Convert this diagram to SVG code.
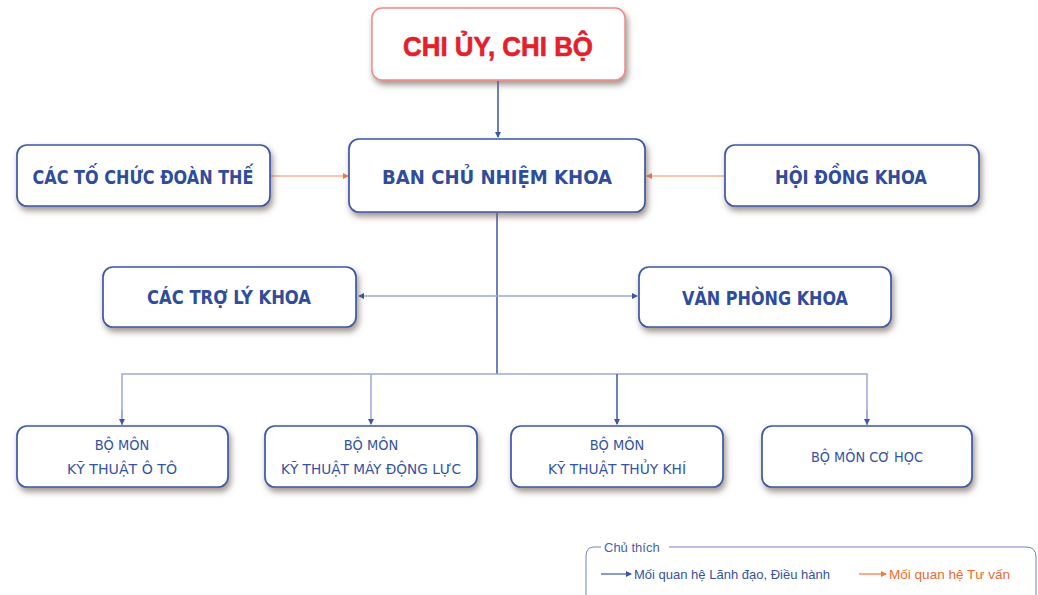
<svg xmlns="http://www.w3.org/2000/svg" width="1038" height="595" viewBox="0 0 1038 595">
<style>
.box{fill:#ffffff;stroke:#3d57a8;stroke-width:1.7}
.red{fill:#ffffff;stroke:#f08a8a;stroke-width:1.5}
.t{font-family:"DejaVu Sans Condensed","DejaVu Sans",sans-serif;font-stretch:condensed;font-weight:bold;fill:#2f4d9c;text-anchor:middle;font-size:19px}
.s{font-family:"DejaVu Sans Condensed","DejaVu Sans",sans-serif;font-stretch:condensed;fill:#3553a4;text-anchor:middle;font-size:14.5px}
.lead{stroke:#3d57a8;stroke-width:1.5;fill:none}
.thin{stroke:#9aaad6;stroke-width:1.5;fill:none}
.adv{stroke:#f8c6ad;stroke-width:2;fill:none}
.lg{font-family:"Liberation Sans",Arial,sans-serif;font-size:13px}
</style>
<defs>
<filter id="sh" x="-10%" y="-20%" width="125%" height="150%">
<feDropShadow dx="2" dy="4" stdDeviation="3" flood-color="#6a5a50" flood-opacity="0.65"/>
</filter>
<marker id="ab" markerWidth="6" markerHeight="6" refX="5" refY="3" orient="auto" markerUnits="userSpaceOnUse">
<path d="M0,0 L6,3 L0,6 Z" fill="#3d57a8"/>
</marker>
<marker id="ao" markerWidth="6" markerHeight="6" refX="5" refY="3" orient="auto" markerUnits="userSpaceOnUse">
<path d="M0,0 L6,3 L0,6 Z" fill="#f07a40"/>
</marker>
</defs>
<rect width="1038" height="595" fill="#ffffff"/>

<g id="connectors">
<line class="lead" x1="498" y1="81" x2="498" y2="137" marker-end="url(#ab)"/>
<line class="adv" x1="271" y1="176" x2="348" y2="176" marker-end="url(#ao)"/>
<line class="adv" x1="724" y1="176" x2="647" y2="176" marker-end="url(#ao)"/>
<line class="lead" x1="497" y1="213" x2="497" y2="374"/>
<line class="thin" x1="497" y1="296" x2="359" y2="296" marker-end="url(#ab)"/>
<line class="thin" x1="497" y1="296" x2="637" y2="296" marker-end="url(#ab)"/>
<polyline class="thin" points="122,425 122,374 867,374 867,425"/>
<line class="thin" x1="371" y1="374" x2="371" y2="424" marker-end="url(#ab)"/>
<line class="lead" x1="617" y1="374" x2="617" y2="424" marker-end="url(#ab)"/>
<line class="thin" x1="122" y1="410" x2="122" y2="424" marker-end="url(#ab)"/>
<line class="thin" x1="867" y1="410" x2="867" y2="424" marker-end="url(#ab)"/>
</g>

<g id="chiuy">
<rect class="red" x="372" y="8" width="253" height="72" rx="10" filter="url(#sh)"/>
<text x="498" y="56" font-family="Liberation Sans, Arial, sans-serif" font-weight="bold" font-size="28" fill="#e3202b" stroke="#e3202b" stroke-width="0.6" text-anchor="middle" textLength="190" lengthAdjust="spacingAndGlyphs">CHI ỦY, CHI BỘ</text>
</g>

<g id="ban">
<rect class="box" x="349" y="139" width="296" height="73" rx="10" filter="url(#sh)"/>
<text class="t" x="497" y="184" font-size="21" textLength="230" lengthAdjust="spacingAndGlyphs">BAN CHỦ NHIỆM KHOA</text>
</g>

<g id="doanthe">
<rect class="box" x="17" y="145" width="253" height="61" rx="10" filter="url(#sh)"/>
<text class="t" x="143" y="184" textLength="221" lengthAdjust="spacingAndGlyphs">CÁC TỐ CHỨC ĐOÀN THẾ</text>
</g>

<g id="hoidong">
<rect class="box" x="725" y="145" width="254" height="61" rx="10" filter="url(#sh)"/>
<text class="t" x="851" y="184" textLength="152" lengthAdjust="spacingAndGlyphs">HỘI ĐỒNG KHOA</text>
</g>

<g id="troly">
<rect class="box" x="103" y="267" width="253" height="60" rx="10" filter="url(#sh)"/>
<text class="t" x="229" y="304" textLength="164" lengthAdjust="spacingAndGlyphs">CÁC TRỢ LÝ KHOA</text>
</g>

<g id="vanphong">
<rect class="box" x="639" y="267" width="252" height="60" rx="10" filter="url(#sh)"/>
<text class="t" x="765" y="305" textLength="166" lengthAdjust="spacingAndGlyphs">VĂN PHÒNG KHOA</text>
</g>

<g id="bm-oto">
<rect class="box" x="17" y="426" width="211" height="61" rx="10" filter="url(#sh)"/>
<text class="s" x="122" y="450">BỘ MÔN</text>
<text class="s" x="122" y="474" textLength="110" lengthAdjust="spacingAndGlyphs">KỸ THUẬT Ô TÔ</text>
</g>

<g id="bm-maydongluc">
<rect class="box" x="265" y="426" width="212" height="61" rx="10" filter="url(#sh)"/>
<text class="s" x="371" y="450">BỘ MÔN</text>
<text class="s" x="371" y="474" textLength="180" lengthAdjust="spacingAndGlyphs">KỸ THUẬT MÁY ĐỘNG LỰC</text>
</g>

<g id="bm-thuykhi">
<rect class="box" x="511" y="426" width="212" height="61" rx="10" filter="url(#sh)"/>
<text class="s" x="617" y="450">BỘ MÔN</text>
<text class="s" x="617" y="474" textLength="138" lengthAdjust="spacingAndGlyphs">KỸ THUẬT THỦY KHÍ</text>
</g>

<g id="bm-cohoc">
<rect class="box" x="762" y="426" width="210" height="61" rx="10" filter="url(#sh)"/>
<text class="s" x="867" y="462" textLength="112" lengthAdjust="spacingAndGlyphs">BỘ MÔN CƠ HỌC</text>
</g>

<g id="legend">
<path d="M601,547 L594,547 Q586,547 586,556 L586,595 M669,547 L1026,547 Q1036,547 1036,557 L1036,595" fill="none" stroke="#6f82c4" stroke-width="1"/>
<text class="lg" x="604" y="552" fill="#4a5fa8">Chủ thích</text>
<line x1="601" y1="574" x2="631" y2="574" stroke="#3d57a8" stroke-width="1.2" marker-end="url(#ab)"/>
<text class="lg" x="634" y="579" fill="#3553a4" textLength="196" lengthAdjust="spacingAndGlyphs">Mối quan hệ Lãnh đạo, Điều hành</text>
<line x1="859" y1="574" x2="886" y2="574" stroke="#f07a40" stroke-width="1.2" marker-end="url(#ao)"/>
<text class="lg" x="889" y="579" fill="#f06a30" textLength="121" lengthAdjust="spacingAndGlyphs">Mối quan hệ Tư vấn</text>
</g>
</svg>
